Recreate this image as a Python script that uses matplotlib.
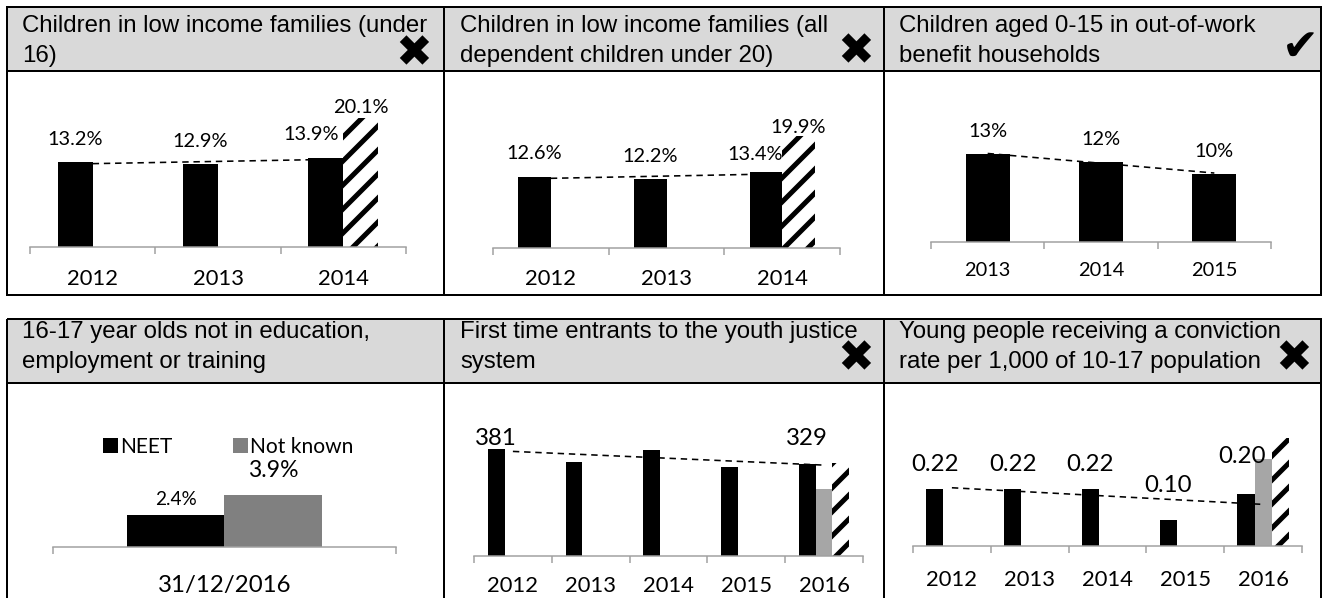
import numpy as np
import matplotlib
matplotlib.use('Agg')
import matplotlib.pyplot as plt
from matplotlib.patches import Rectangle

W, H, DPI = 1325, 598, 72          # at 72 dpi one point is one pixel
plt.rcParams['hatch.linewidth'] = 5

TITLE_FONT = 'Liberation Sans'
LABEL_FONT = 'Lato'
AXIS_GREY = '#a0a0a0'
HEADER_GREY = '#d9d9d9'

# ---- data ----
titles = ['Children in low income families (under\n16)',
          'Children in low income families (all\ndependent children under 20)',
          'Children aged 0-15 in out-of-work\nbenefit households',
          '16-17 year olds not in education,\nemployment or training',
          'First time entrants to the youth justice\nsystem',
          'Young people receiving a conviction\nrate per 1,000 of 10-17 population']
marks = ['\u2716', '\u2716', '\u2714', '', '\u2716', '\u2716']

p1_years = ['2012', '2013', '2014']
p1_local = [13.2, 12.9, 13.9]
p1_compare = [np.nan, np.nan, 20.1]

p2_years = ['2012', '2013', '2014']
p2_local = [12.6, 12.2, 13.4]
p2_compare = [np.nan, np.nan, 19.9]

p3_years = ['2013', '2014', '2015']
p3_local = [13.0, 11.9, 10.1]

p4_date = ['31/12/2016']
p4_neet = [2.4]
p4_not_known = [3.9]

p5_years = ['2012', '2013', '2014', '2015', '2016']
p5_local = [381, 335, 377, 317, 329]
p5_grey = [np.nan, np.nan, np.nan, np.nan, 238]
p5_compare = [np.nan, np.nan, np.nan, np.nan, 330]

p6_years = ['2012', '2013', '2014', '2015', '2016']
p6_local = [0.22, 0.22, 0.22, 0.10, 0.20]
p6_grey = [np.nan, np.nan, np.nan, np.nan, 0.335]
p6_compare = [np.nan, np.nan, np.nan, np.nan, 0.415]

fig = plt.figure(figsize=(W / DPI, H / DPI), dpi=DPI)

# ---- boxes and headers ----
ax0 = fig.add_axes([0, 0, 1, 1])
ax0.set_xlim(0, W)
ax0.set_ylim(H, 0)
ax0.axis('off')

col_x = [7, 444, 884, 1321]
rows = [dict(top=7, hdr=71, bot=295, base=(32, 62)),
        dict(top=319, hdr=383, bot=610, base=(338, 368))]
title_x = [22, 460, 899]
mark_pos = [(414, 54), (856, 52), (1300, 47), None, (856, 359), (1294, 359)]

for r, row in enumerate(rows):
    ax0.add_patch(Rectangle((col_x[0], row['top']), col_x[-1] - col_x[0],
                            row['hdr'] - row['top'], color=HEADER_GREY, lw=0))
    ax0.add_patch(Rectangle((col_x[0], row['top']), col_x[-1] - col_x[0],
                            row['bot'] - row['top'], fill=False, lw=2, ec='black'))
    ax0.plot([col_x[0], col_x[-1]], [row['hdr']] * 2, color='black', lw=2)
    for xd in col_x[1:-1]:
        ax0.plot([xd, xd], [row['top'], row['bot']], color='black', lw=2)
    for c in range(3):
        k = r * 3 + c
        for j, line in enumerate(titles[k].split('\n')):
            ax0.text(title_x[c], row['base'][j], line, fontsize=24,
                     family=TITLE_FONT, va='baseline', ha='left')
        if marks[k]:
            ax0.text(mark_pos[k][0], mark_pos[k][1], marks[k], fontsize=44,
                     family='DejaVu Sans', ha='center', va='center')


def place(x0, x1, y_axis, y_top):
    return fig.add_axes([x0 / W, 1 - y_axis / H, (x1 - x0) / W, (y_axis - y_top) / H])


def frame(ax, cats, scale, y_axis, y_top, cat_base, cat_size):
    n = len(cats)
    ax.set_xlim(-0.5, n - 0.5)
    ax.set_ylim(0, (y_axis - y_top) / scale)
    for s in ['top', 'left', 'right']:
        ax.spines[s].set_visible(False)
    ax.spines['bottom'].set_color(AXIS_GREY)
    ax.spines['bottom'].set_linewidth(1.5)
    ax.set_yticks([])
    ax.set_xticks(np.arange(n + 1) - 0.5)
    ax.set_xticklabels([])
    ax.tick_params(axis='x', length=7, width=1.5, color=AXIS_GREY)
    ax.patch.set_visible(False)
    for i, c in enumerate(cats):
        ax.annotate(c, xy=(i, 0), xycoords=('data', 'axes fraction'),
                    xytext=(0, -(cat_base - y_axis)), textcoords='offset points',
                    ha='center', va='baseline', fontsize=cat_size, family=LABEL_FONT)


def label(ax, x, v, text, dy, size, dx=0):
    ax.annotate(text, xy=(x, v), xytext=(dx, dy), textcoords='offset points',
                ha='center', va='baseline', fontsize=size, family=LABEL_FONT)


def trend(ax, vals):
    x = np.arange(len(vals))
    k, b = np.polyfit(x, vals, 1)
    ax.plot(x, k * x + b, color='black', lw=1.6, ls=(0, (4, 3)), zorder=4)


def hatched(ax, x, vals, width):
    vals = np.asarray(vals, float)
    m = ~np.isnan(vals)
    ax.bar(x[m], vals[m], width, facecolor='white', edgecolor='black',
           hatch='/', linewidth=0)
    return x[m], vals[m]


# ---- panel 1 ----
ax = place(30, 406, 247, 80)
frame(ax, p1_years, 6.42, 247, 80, 285, 22)
x = np.arange(len(p1_years))
ax.bar(x - 0.14, p1_local, 0.28, color='black', lw=0)
cx, cv = hatched(ax, x + 0.14, p1_compare, 0.28)
trend(ax, p1_local)
for i, (v, dy, dx) in enumerate(zip(p1_local, [17, 17, 18], [0, 0, -15])):
    label(ax, i - 0.14, v, f'{v:.1f}%', dy, 20, dx)
for xx, v in zip(cx, cv):
    label(ax, xx, v, f'{v:.1f}%', 5, 20)

# ---- panel 2 ----
ax = place(493, 840, 248, 80)
frame(ax, p2_years, 5.65, 248, 80, 285, 22)
x = np.arange(len(p2_years))
ax.bar(x - 0.14, p2_local, 0.28, color='black', lw=0)
cx, cv = hatched(ax, x + 0.14, p2_compare, 0.28)
trend(ax, p2_local)
for i, (v, dy, dx) in enumerate(zip(p2_local, [18, 17, 12], [0, 0, -11])):
    label(ax, i - 0.14, v, f'{v:.1f}%', dy, 20, dx)
for xx, v in zip(cx, cv):
    label(ax, xx, v, f'{v:.1f}%', 3, 20)

# ---- panel 3 ----
ax = place(931, 1271, 242, 80)
frame(ax, p3_years, 6.75, 242, 80, 276, 20)
x = np.arange(len(p3_years))
ax.bar(x, p3_local, 0.39, color='black', lw=0)
trend(ax, p3_local)
for i, v in enumerate(p3_local):
    label(ax, i, v, f'{v:.0f}%', 17, 20)

# ---- panel 4 ----
ax = place(53, 396, 547, 390)
frame(ax, p4_date, 13.3, 547, 390, 592, 24)
x = np.arange(len(p4_date))
b1 = ax.bar(x - 0.1425, p4_neet, 0.285, color='black', lw=0, label='NEET')
b2 = ax.bar(x + 0.1425, p4_not_known, 0.285, color='#808080', lw=0, label='Not known')
for i, v in enumerate(p4_neet):
    label(ax, i - 0.1425, v, f'{v:.1f}%', 10, 19)
for i, v in enumerate(p4_not_known):
    label(ax, i + 0.1425, v, f'{v:.1f}%', 18, 23)
ax.legend(handles=[b1, b2], loc='center', ncol=2, frameon=False,
          bbox_to_anchor=(228 / W, 1 - 447 / H), bbox_transform=fig.transFigure,
          prop={'family': LABEL_FONT, 'size': 21}, handlelength=0.7,
          handleheight=0.7, handletextpad=0.1, columnspacing=2.9, borderpad=0)

# ---- panel 5 ----
ax = place(474, 863, 556, 390)
frame(ax, p5_years, 0.281, 556, 390, 592, 22)
x = np.arange(len(p5_years))
ax.bar(x - 0.215, p5_local, 0.215, color='black', lw=0)
g = np.asarray(p5_grey, float)
ax.bar(x[~np.isnan(g)], g[~np.isnan(g)], 0.215, color='#a6a6a6', lw=0)
hatched(ax, x + 0.215, p5_compare, 0.215)
trend(ax, p5_local)
for i, dy in zip([0, 4], [4, 19]):
    label(ax, i - 0.215, p5_local[i], f'{p5_local[i]}', dy, 24)

# ---- panel 6 ----
ax = place(913, 1302, 546, 390)
frame(ax, p6_years, 260, 546, 390, 586, 22)
x = np.arange(len(p6_years))
ax.bar(x - 0.22, p6_local, 0.22, color='black', lw=0)
g = np.asarray(p6_grey, float)
ax.bar(x[~np.isnan(g)], g[~np.isnan(g)], 0.22, color='#a6a6a6', lw=0)
hatched(ax, x + 0.22, p6_compare, 0.22)
trend(ax, p6_local)
for i, (v, dy, dx) in enumerate(zip(p6_local, [18, 18, 18, 28, 31], [0, 0, 0, 0, -4])):
    label(ax, i - 0.22, v, f'{v:.2f}', dy, 24, dx)

fig.savefig('out.png', dpi=DPI)
